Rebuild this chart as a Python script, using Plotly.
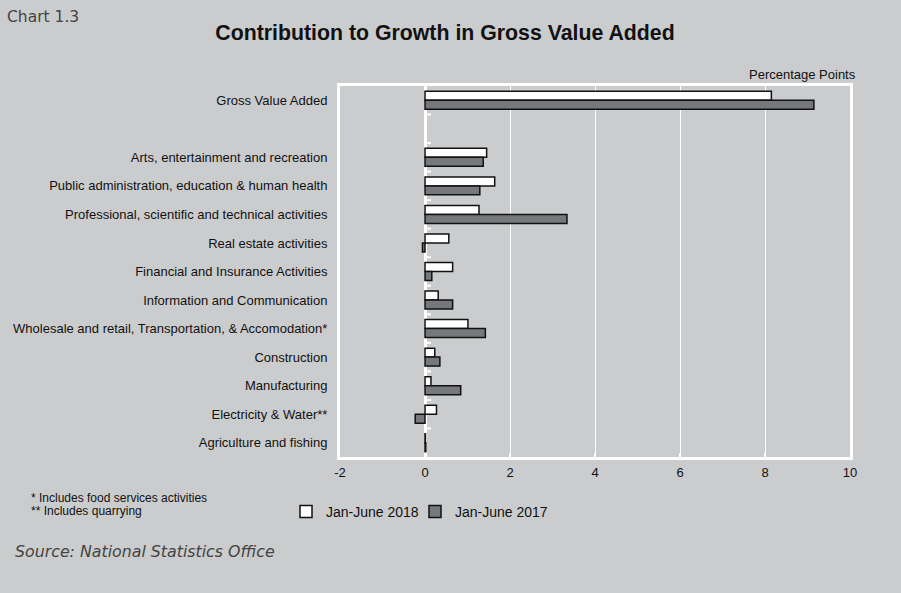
import plotly.graph_objects as go

# Sectors, top to bottom; the blank entry leaves an empty row under the total
categories = [
    "Gross Value Added",
    " ",
    "Arts, entertainment and recreation",
    "Public administration, education & human health",
    "Professional, scientific and technical activities",
    "Real estate activities",
    "Financial and Insurance Activities",
    "Information and Communication",
    "Wholesale and retail, Transportation, & Accomodation*",
    "Construction",
    "Manufacturing",
    "Electricity & Water**",
    "Agriculture and fishing",
]

# Contribution to growth, percentage points
jan_june_2018 = [8.15, None, 1.45, 1.64, 1.27, 0.56, 0.65, 0.31, 1.01, 0.23, 0.14, 0.27, 0.01]
jan_june_2017 = [9.15, None, 1.37, 1.29, 3.34, -0.06, 0.16, 0.65, 1.42, 0.35, 0.84, -0.23, 0.02]

x_ticks = [-2, 0, 2, 4, 6, 8, 10]

BG = "#cbcccd"
FONT = "Liberation Sans, Arial, sans-serif"
WIDE = "DejaVu Sans, sans-serif"

W, H = 901, 593
L, R, T, B = 340, 51, 86, 136
PW, PH = W - L - R, H - T - B


def px(x):
    return (x - L) / PW


def py(y):
    return (H - B - y) / PH


fig = go.Figure()
fig.add_trace(go.Bar(
    y=categories, x=jan_june_2018, orientation="h", name="Jan-June 2018",
    marker=dict(color="#ffffff", line=dict(color="#111111", width=1.5)),
    legend="legend",
))
fig.add_trace(go.Bar(
    y=categories, x=jan_june_2017, orientation="h", name="Jan-June 2017",
    marker=dict(color="#77787b", line=dict(color="#111111", width=1.5)),
    legend="legend2",
))

# small white ticks on the zero line between the category rows
shapes = []
for i in range(len(categories) - 1):
    shapes.append(dict(type="line", xref="x", yref="y", x0=0, x1=0.14,
                       y0=i + 0.5, y1=i + 0.5,
                       line=dict(color="white", width=2)))

annotations = [
    dict(text="Chart 1.3", x=px(5), y=py(17), xref="paper", yref="paper",
         xanchor="left", yanchor="middle", showarrow=False,
         font=dict(family=WIDE, size=15.5, color="#444444")),
    dict(text="Percentage Points", x=px(858), y=py(74), xref="paper", yref="paper",
         xanchor="right", yanchor="middle", showarrow=False,
         font=dict(family=FONT, size=13, color="#111111")),
    dict(text="* Includes food services activities", x=px(29), y=py(498),
         xref="paper", yref="paper", xanchor="left", yanchor="middle",
         showarrow=False, font=dict(family=FONT, size=12, color="#111111")),
    dict(text="** Includes quarrying", x=px(29), y=py(511),
         xref="paper", yref="paper", xanchor="left", yanchor="middle",
         showarrow=False, font=dict(family=FONT, size=12, color="#111111")),
    dict(text="<i>Source: National Statistics Office</i>", x=px(13), y=py(551),
         xref="paper", yref="paper", xanchor="left", yanchor="middle",
         showarrow=False,
         font=dict(family=WIDE, size=15.8, color="#444444")),
]

legend_style = dict(orientation="h", xanchor="left", yanchor="middle",
                    bgcolor="rgba(0,0,0,0)", itemwidth=30,
                    font=dict(family=FONT, size=14, color="#111111"))

fig.update_layout(
    width=W, height=H,
    margin=dict(l=L, r=R, t=T, b=B),
    paper_bgcolor=BG, plot_bgcolor=BG,
    barmode="group", bargap=0.37, bargroupgap=0,
    title=dict(text="<b>Contribution to Growth in Gross Value Added</b>",
               x=445 / W, xanchor="center", y=1 - 33 / H, yanchor="middle",
               font=dict(family=FONT, size=21.3, color="#111111")),
    font=dict(family=FONT, size=13, color="#111111"),
    showlegend=True,
    legend=dict(x=px(286), y=py(512), **legend_style),
    legend2=dict(x=px(415), y=py(512), **legend_style),
    shapes=shapes,
    annotations=annotations,
)

fig.update_xaxes(
    range=[-2, 10], tickvals=x_ticks, ticktext=[str(v) for v in x_ticks],
    showgrid=True, gridcolor="white", gridwidth=1.2,
    zeroline=True, zerolinecolor="white", zerolinewidth=2.5,
    showline=True, linecolor="white", linewidth=3, mirror=True,
    ticks="inside", ticklen=4, tickcolor="white", tickwidth=2,
    ticklabelstandoff=1,
    tickfont=dict(family=FONT, size=13, color="#111111"),
    fixedrange=True,
)
fig.update_yaxes(
    type="category", categoryorder="array", categoryarray=categories,
    autorange="reversed",
    showgrid=False, showline=True, linecolor="white", linewidth=3, mirror=True,
    ticks="", ticklabelstandoff=7,
    tickfont=dict(family=FONT, size=13, color="#111111"),
    fixedrange=True,
)

fig.write_html("out.html")
